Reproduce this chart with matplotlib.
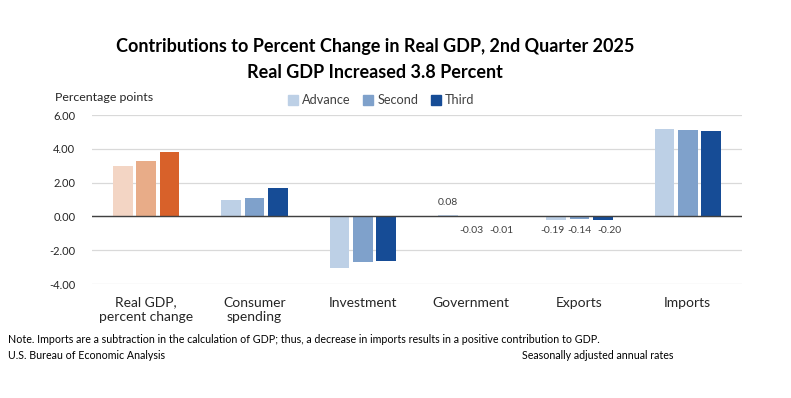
import numpy as np
import matplotlib as mpl
import matplotlib.pyplot as plt

mpl.rc('font', family=['Lato', 'DejaVu Sans'])

categories = ['Real GDP,\npercent change', 'Consumer\nspending', 'Investment',
              'Government', 'Exports', 'Imports']
series = ['Advance', 'Second', 'Third']
advance = [3.0, 0.98, -3.08, 0.08, -0.19, 5.18]
second = [3.3, 1.07, -2.72, -0.03, -0.14, 5.09]
third = [3.8, 1.68, -2.66, -0.01, -0.20, 5.03]
yticks = [-4, -2, 0, 2, 4, 6]

blue_cols = ['#BDD0E6', '#7FA1CB', '#164C96']
gdp_cols = ['#F3D5C4', '#E8AC88', '#D8612A']

fig = plt.figure(figsize=(7.91, 3.98), dpi=100)
ax = fig.add_axes([0.1163, 0.2864, 0.8217, 0.4246])

x = np.arange(len(categories))
w = 0.18
offs = [-0.215, 0, 0.215]
lab_shift = {(3, 2): 0.06, (4, 0): -0.03, (4, 2): 0.06}
for i, (name, vals) in enumerate(zip(series, [advance, second, third])):
    cols = [gdp_cols[i]] + [blue_cols[i]] * (len(categories) - 1)
    ax.bar(x + offs[i], vals, width=w, color=cols, label=name, zorder=3)
    # data labels for the small groups
    for j in (3, 4):
        v = vals[j]
        xp = x[j] + offs[i] + lab_shift.get((j, i), 0)
        if v >= 0:
            ax.text(xp, v + 0.5, f'{v:.2f}', ha='center', va='bottom',
                    fontsize=7.5, color='#404040')
        else:
            ax.text(xp, -0.55, f'{v:.2f}', ha='center', va='top',
                    fontsize=7.5, color='#404040')

ax.set_xlim(-0.5, len(categories) - 0.5)
ax.set_ylim(-4, 6)
ax.set_yticks(yticks)
ax.set_yticklabels([f'{t:.2f}' for t in yticks], fontsize=8, color='#262626')
ax.set_xticks(x)
ax.set_xticklabels(categories, fontsize=10, color='#262626')
ax.tick_params(length=0)
ax.tick_params(axis='y', pad=12)
ax.tick_params(axis='x', pad=9)
ax.grid(axis='y', color='#D9D9D9', linewidth=0.9, zorder=0)
ax.axhline(0, color='#404040', linewidth=1.0, zorder=4)
for s in ax.spines.values():
    s.set_visible(False)

# legend with correct blue swatches
handles = [mpl.patches.Patch(color=c) for c in blue_cols]
fig.legend(handles, series, loc='center', bbox_to_anchor=(0.482, 0.748), ncol=3,
           frameon=False, fontsize=9.2, handlelength=0.8, handleheight=0.8,
           handletextpad=0.3, columnspacing=1.0, labelcolor='#404040')

fig.text(0.474, 0.882, 'Contributions to Percent Change in Real GDP, 2nd Quarter 2025',
         ha='center', va='center', fontsize=13, fontweight='bold', color='#000000')
fig.text(0.474, 0.819, 'Real GDP Increased 3.8 Percent',
         ha='center', va='center', fontsize=13, fontweight='bold', color='#000000')
fig.text(0.07, 0.756, 'Percentage points', ha='left', va='center', fontsize=8.9, color='#262626')

fig.text(0.01, 0.146, 'Note. Imports are a subtraction in the calculation of GDP; thus, a decrease in imports '
         'results in a positive contribution to GDP.', ha='left', va='center', fontsize=7.7, color='#000000')
fig.text(0.01, 0.108, 'U.S. Bureau of Economic Analysis', ha='left', va='center', fontsize=7.7, color='#000000')
fig.text(0.66, 0.108, 'Seasonally adjusted annual rates', ha='left', va='center', fontsize=7.7, color='#000000')

fig.savefig('out.png', dpi=100)
